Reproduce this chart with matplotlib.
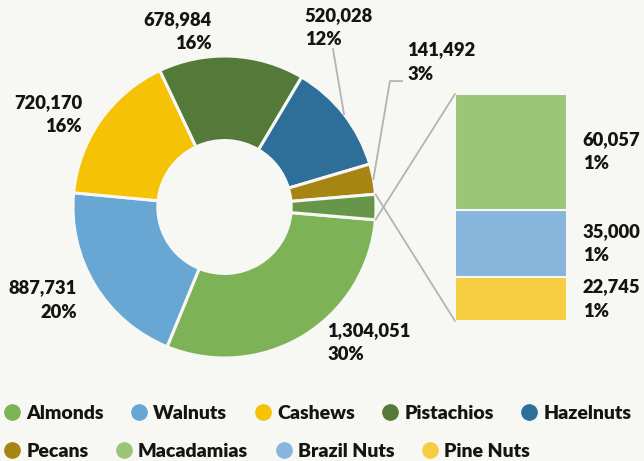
import matplotlib
matplotlib.use("Agg")
import matplotlib.pyplot as plt
import numpy as np
from matplotlib.lines import Line2D
from matplotlib.patches import ConnectionPatch

plt.rcParams['font.family'] = ['Lato', 'DejaVu Sans']

# data
pie_names = ["Almonds", "Walnuts", "Cashews", "Pistachios", "Hazelnuts", "Pecans"]
pie_values = [1304051, 887731, 720170, 678984, 520028, 141492]
pie_colors = ["#7db356", "#68a7d3", "#f5c205", "#537a38", "#2e6f9a", "#a88413"]

bar_names = ["Macadamias", "Brazil Nuts", "Pine Nuts"]
bar_values = [60057, 35000, 22745]
bar_colors = ["#9bc579", "#87b5db", "#f6cd40"]
other_color = "#67964a"

bg = "#f7f7f3"
txt = "#141414"
W = 800  # heavy

others = sum(bar_values)
all_vals = pie_values + [others]
total = sum(all_vals)

fig = plt.figure(figsize=(6.44, 4.61), dpi=100, facecolor=bg)

# donut
ax = fig.add_axes([73 / 644, 1 - 358 / 461, 303 / 644, 302 / 461])
ax.set_facecolor(bg)
start = -others / total * 360 / 2
wedges, _ = ax.pie(all_vals, colors=pie_colors + [other_color], startangle=start,
                   counterclock=False, radius=1,
                   wedgeprops=dict(width=0.56, edgecolor=bg, linewidth=2.2))
ax.set_xlim(-1, 1)
ax.set_ylim(-1, 1)
ax.set_aspect('auto')
ax.axis('off')

def lab(v):
    return f"{v:,}\n{round(v / total * 100):.0f}%"

# label positions (x, y, ha)
label_pos = [(0.68, -0.90, 'left'), (-0.975, -0.616, 'right'), (-0.94, 0.61, 'right'),
             (-0.083, 1.16, 'right'), (0.53, 1.19, 'left'), (1.205, 0.96, 'left')]
for v, (x, y, ha) in zip(pie_values, label_pos):
    ax.text(x, y, lab(v), ha=ha, va='center', fontsize=13.2, fontweight=W, color=txt,
            linespacing=1.5, clip_on=False)

# leader lines for hazelnuts and pecans
def mid_pt(w):
    a = np.deg2rad((w.theta1 + w.theta2) / 2)
    return np.cos(a), np.sin(a)

hx, hy = mid_pt(wedges[4])
ax.plot([hx, 0.716], [hy, 1.046], color="#b3b3b3", lw=1.3, clip_on=False)
px, py = mid_pt(wedges[5])
ax.plot([px, 1.092, 1.172], [py, 0.834, 0.834], color="#b3b3b3", lw=1.3, clip_on=False)

# stacked bar for the others
ax2 = fig.add_axes([455 / 644, 1 - 321 / 461, 112 / 644, 227 / 461])
ax2.set_facecolor(bg)
bottom = 0
for name, v, c in reversed(list(zip(bar_names, bar_values, bar_colors))):
    ax2.bar(0, v, bottom=bottom, width=1, color=c, edgecolor=bg, linewidth=1.5)
    ax2.text(1.14, bottom + v / 2, lab(v), transform=ax2.get_yaxis_transform(),
             ha='left', va='center', fontsize=13.2, fontweight=W, color=txt, linespacing=1.5)
    bottom += v
ax2.set_xlim(-0.5, 0.5)
ax2.set_ylim(0, others)
ax2.axis('off')

w = wedges[-1]
for ang, yb in [(w.theta1, others), (w.theta2, 0)]:
    a = np.deg2rad(ang)
    con = ConnectionPatch(xyA=(np.cos(a), np.sin(a)), coordsA=ax.transData,
                          xyB=(-0.5, yb), coordsB=ax2.transData,
                          color="#b3b3b3", lw=1.3)
    fig.add_artist(con)

# legends
names = pie_names + bar_names
cols = pie_colors + bar_colors
handles = [Line2D([], [], marker='o', ls='', markersize=11, color=c) for c in cols]
leg_kw = dict(loc='center left', frameon=False, prop=dict(size=14, weight=W),
              handlelength=0.85, handletextpad=0.3, columnspacing=1.4,
              borderpad=0, borderaxespad=0)
leg1 = fig.legend(handles[:5], names[:5], bbox_to_anchor=(0.006, 1 - 413 / 461), ncol=5, **leg_kw)
leg2 = fig.legend(handles[5:], names[5:], bbox_to_anchor=(0.006, 1 - 451 / 461), ncol=4, **leg_kw)
for lg in (leg1, leg2):
    for t in lg.get_texts():
        t.set_color(txt)

fig.savefig("out.png", dpi=100, facecolor=bg)
